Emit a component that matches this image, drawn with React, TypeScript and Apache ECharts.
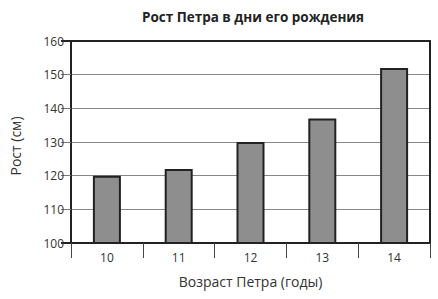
import React, { useEffect, useRef } from "react";
import * as echarts from "echarts";

const ages = ["10", "11", "12", "13", "14"];
const heights = [120, 122, 130, 137, 152];
const title = "Рост Петра в дни его рождения";
const xTitle = "Возраст Петра (годы)";
const yTitle = "Рост (см)";

export default function App() {
  const ref = useRef<HTMLDivElement>(null);
  useEffect(() => {
    if (!ref.current) return;
    const chart = echarts.init(ref.current, null, { renderer: "svg" });
    const font = "'Open Sans', 'Noto Sans', sans-serif";
    chart.setOption({
      animation: false,
      backgroundColor: "#fff",
      title: {
        text: title,
        left: 248,
        textAlign: "center",
        top: 5,
        textStyle: { fontFamily: font, fontSize: 13.5, fontWeight: "bold", color: "#222" },
      },
      grid: { left: 67, right: 8, top: 41, bottom: 56 },
      xAxis: [
        {
          type: "category",
          data: ages,
          boundaryGap: true,
          axisLine: { show: true, lineStyle: { color: "#222", width: 2 } },
          axisTick: { show: true, length: 15, alignWithLabel: false, lineStyle: { color: "#444", width: 1 } },
          axisLabel: { fontFamily: font, fontSize: 12, color: "#333", margin: 8 },
          name: xTitle,
          nameLocation: "middle",
          nameGap: 31,
          nameTextStyle: { fontFamily: font, fontSize: 14, color: "#333" },
        },
        {
          type: "category",
          data: ages,
          position: "top",
          axisLine: { show: true, lineStyle: { color: "#222", width: 2 } },
          axisTick: { show: false },
          axisLabel: { show: false },
        },
      ],
      yAxis: [
        {
          type: "value",
          min: 100,
          max: 160,
          interval: 10,
          axisLine: { show: true, lineStyle: { color: "#222", width: 2 } },
          axisTick: { show: true, length: 10, lineStyle: { color: "#777", width: 1 } },
          axisLabel: { fontFamily: font, fontSize: 12, color: "#333", margin: 7 },
          splitLine: { show: true, lineStyle: { color: "#888", width: 1 } },
          name: yTitle,
          nameLocation: "middle",
          nameGap: 49,
          nameRotate: 90,
          nameTextStyle: { fontFamily: font, fontSize: 14, color: "#333", padding: [0, 8, 0, 0] },
        },
        {
          type: "value",
          min: 100,
          max: 160,
          interval: 60,
          position: "left",
          axisLine: { show: false },
          axisTick: { show: true, length: 10, lineStyle: { color: "#222", width: 2 } },
          axisLabel: { show: false },
          splitLine: { show: false },
        },
        {
          type: "value",
          min: 100,
          max: 160,
          interval: 10,
          position: "right",
          axisLine: { show: true, lineStyle: { color: "#222", width: 2 } },
          axisTick: { show: false },
          axisLabel: { show: false },
          splitLine: { show: false },
        },
      ],
      series: [
        {
          type: "bar",
          data: heights,
          barWidth: 28,
          itemStyle: { color: "#8e8e8e", borderColor: "#222", borderWidth: 2 },
        },
      ],
    });
    return () => chart.dispose();
  }, []);
  return <div ref={ref} style={{ width: 438, height: 299, position: "absolute", left: 0, top: 0 }} />;
}
